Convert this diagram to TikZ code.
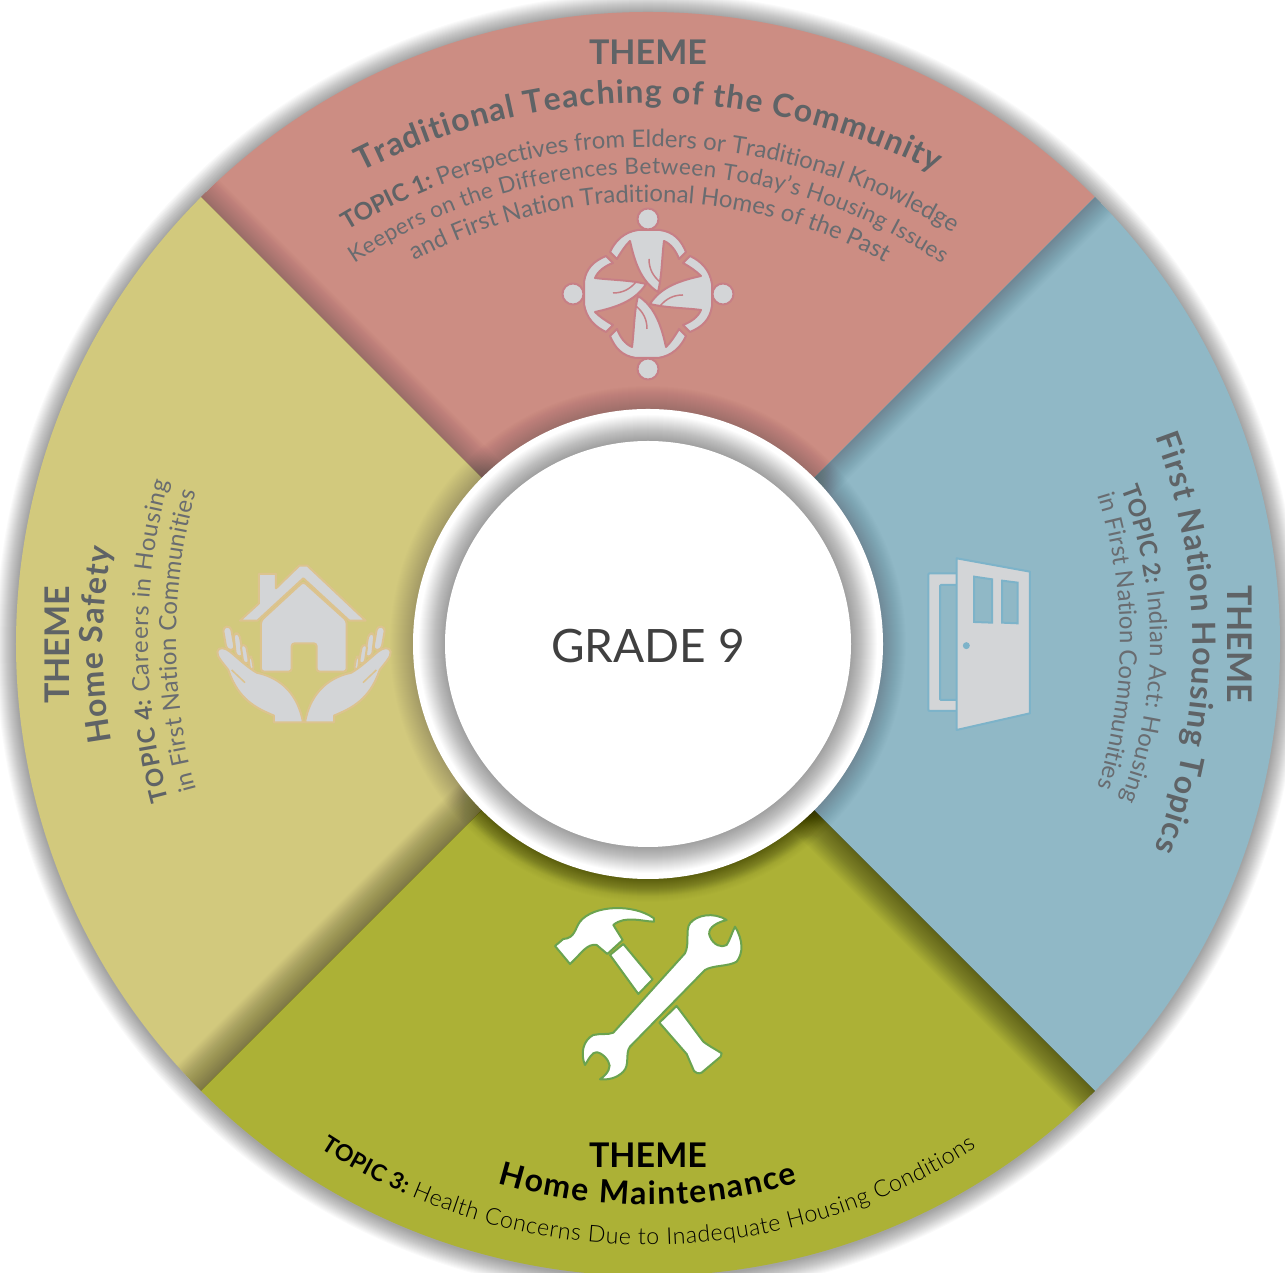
\documentclass[tikz,border=0pt]{standalone}
\usepackage{fontspec}
\setmainfont{Lato}
\newfontfamily\litefam{Lato Light}
\usetikzlibrary{decorations.text,calc}
\definecolor{cred}{HTML}{CC8D83}
\definecolor{cblue}{HTML}{90B8C6}
\definecolor{cgreen}{HTML}{ACB136}
\definecolor{cyellow}{HTML}{D2C97D}
\definecolor{ctxt}{HTML}{5F6366}
\definecolor{ctxtl}{HTML}{696C70}
\definecolor{iconf}{HTML}{D3D5D7}
\definecolor{cpeople}{HTML}{C77F86}
\definecolor{cdoor}{HTML}{7DB3C9}
\definecolor{chome}{HTML}{DCC38F}
\definecolor{ctools}{HTML}{6BA34F}
\tikzset{
  iconred/.style={fill=iconf,draw=#1,line width=2pt,line join=round},
  themebig/.style={font=\bfseries\fontsize{34}{34}\selectfont,text=#1},
  arctext/.style={decorate,decoration={text along path,text align=fit to path,text={#1}}},
}
\newcommand\fttl{\bfseries\fontsize{32}{32}\selectfont\color{ctxt}}
\newcommand\ftb{\bfseries\fontsize{24}{24}\selectfont\color{ctxt}}
\newcommand\ftl{\fontsize{24}{24}\selectfont\color{ctxtl}}
\newcommand\ftls{\fontsize{22.5}{22.5}\selectfont\color{ctxtl}}
\newcommand\fttlk{\bfseries\fontsize{32}{32}\selectfont\color{black}}
\newcommand\ftbk{\bfseries\fontsize{23}{23}\selectfont\color{black}}
\newcommand\ftlk{\litefam\fontsize{23.2}{23.2}\selectfont\color{black}}
% cx, cy (image), R, a1, a2, text
\newcommand\arctxt[6]{\path[arctext={#6}] ($(#1,1273-#2)+(#4:#3pt)$) arc[start angle=#4,end angle=#5,radius=#3pt];}
\newcommand\sector[2]{(648,629) -- ++(#1:632pt) arc[start angle=#1,end angle=#2,radius=632pt] -- cycle}
\newcommand\bandshadow[4]{% wedge a1 a2, opacity per step, max width
  \begin{scope}
    \clip \sector{#1}{#2};
    \foreach \w in {2,4,...,#4}{\draw[line width=\w pt,black,opacity=#3] (648,629) -- ++(\bnd:640pt);}
  \end{scope}}
\newcommand\person{%
  \filldraw[iconred=cpeople] (0,-75) circle[radius=10.5pt];
  \filldraw[iconred=cpeople] (-10,-64) .. controls (-24,-62) and (-33,-53) .. (-38,-42) -- (-31,-35)
    .. controls (-27,-42) and (-23,-48) .. (-18,-53)
    .. controls (-14,-35) and (-8,-13) .. (10,-2)
    .. controls (14,-18) and (14,-38) .. (16,-53)
    .. controls (23,-50) and (28,-43) .. (31,-35) -- (38,-42)
    .. controls (33,-54) and (26,-62) .. (12,-64) -- cycle;
  \draw[cpeople,line width=1.5pt] (1,-35) .. controls (1,-25) and (5,-18) .. (12,-12);
}
\newcommand\handshape{%
  \filldraw[iconred=chome,rounded corners=4pt] (68,232) -- (92,228) -- (105,300) -- (80,300) -- cycle;
  \filldraw[iconred=chome,rounded corners=4pt] (100,250) -- (118,250) -- (130,320) -- (108,320) -- cycle;
  \filldraw[iconred=chome,rounded corners=3pt] (122,285) -- (138,285) -- (148,340) -- (130,340) -- cycle;
  \filldraw[iconred=chome,rounded corners=3pt] (145,320) -- (155,320) -- (162,360) -- (150,360) -- cycle;
  \filldraw[iconred=chome] (309,517) -- (222,517) -- (222,497)
     .. controls (170,475) and (115,450) .. (85,360)
     .. controls (70,340) and (50,320) .. (52,305)
     .. controls (55,290) and (75,292) .. (90,305)
     .. controls (120,330) and (140,350) .. (170,368)
     .. controls (250,385) and (295,440) .. (309,517) -- cycle;
  \draw[chome,line width=1.5pt] (95,360) -- (135,398);
}
\begin{document}
\begin{tikzpicture}[x=1pt,y=1pt]
\path[use as bounding box,clip] (0,0) rectangle (1285,1273);
\fill[white] (0,0) rectangle (1285,1273);
% outer soft shadow
\foreach \r in {652,651,...,633}{\fill[black,opacity=.018] (648,628) circle[radius=\r pt];}
% wedges
\fill[cred] \sector{45}{135};
\fill[cyellow] \sector{135}{225};
\fill[cgreen] \sector{225}{315};
\fill[cblue] \sector{-45}{45};
% cast shadows along the boundaries
\def\bnd{135}\bandshadow{45}{135}{.009}{50}
\def\bnd{45}\bandshadow{-45}{45}{.006}{50}
\def\bnd{-45}\bandshadow{225}{315}{.016}{60}
\def\bnd{225}\bandshadow{135}{225}{.011}{70}
% halo of the central ring
\foreach \r in {258,257,...,236}{\fill[black,opacity=.008] (648,629) circle[radius=\r pt];}
\begin{scope}
  \clip \sector{225}{315};
  \foreach \r in {252,251,...,236}{\fill[black,opacity=.016] (648,629) circle[radius=\r pt];}
\end{scope}
% ring and centre
\fill[white] (648,629) circle[radius=235pt];
\foreach \r in {229,228,...,204}{\fill[black,opacity=.017] (648,629) circle[radius=\r pt];}
\fill[white] (648,629) circle[radius=203pt];
\node[font=\fontsize{46}{46}\selectfont,text=black!75] (grade) at (648,627) {GRADE 9};
% ---- top text
\node[themebig=ctxt,anchor=base] (themetop) at (648,1273-65) {THEME};
\arctxt{648}{734}{631}{117.05}{62.95}{|\fttl|Traditional Teaching of the Community||}
\arctxt{648}{728}{581}{121.2}{58.8}{|\ftb|TOPIC 1: |||\ftl|Perspectives from Elders or Traditional Knowledge||}
\arctxt{648}{699}{525}{124}{56}{|\ftls|Keepers on the Differences Between Today’s Housing Issues||}
\arctxt{648}{696}{494}{118.2}{61.8}{|\ftl|and First Nation Traditional Homes of the Past||}
% ---- right text
\node[themebig=ctxt,anchor=base,rotate=-90] (themeright) at (1227,1273-644) {THEME};
\arctxt{616}{643}{577}{20.92}{-20.92}{|\fttl|First Nation Housing Topics||}
\arctxt{716}{644}{434}{21.06}{-21.06}{|\ftb|TOPIC 2: |||\ftl|Indian Act: Housing||}
\arctxt{625}{641}{495}{17.15}{-17.15}{|\ftl|in First Nation Communities||}
% ---- left text
\node[themebig=ctxt,anchor=base,rotate=90] (themeleft) at (69,1273-645) {THEME};
\arctxt{661}{645}{558}{190}{170}{|\fttl|Home Safety||}
\arctxt{760}{641}{612}{195.06}{164.94}{|\ftb|TOPIC 4: |||\ftl|Careers in Housing||}
\arctxt{741}{641}{565}{195.29}{164.71}{|\ftl|in First Nation Communities||}
% ---- bottom text
\node[themebig=black,anchor=base] (themebottom) at (648,1273-1168) {THEME};
\arctxt{648}{683}{522}{253.3}{286.7}{|\fttlk|Home Maintenance||}
\arctxt{648}{642}{603}{237.05}{302.95}{|\ftbk|TOPIC 3: |||\ftlk|Health Concerns Due to Inadequate Housing Conditions||}
% ---- people icon
\foreach \a in {0,90,180,270}{
  \begin{scope}[shift={(648,979)},x=1pt,y=-1pt,rotate=\a]
    \person
  \end{scope}}
% ---- door icon
\begin{scope}[shift={(910,733)},x=.3333pt,y=-.3333pt]
  \filldraw[iconred=cdoor,even odd rule,rounded corners=1pt] (55,100) rectangle (142,513) (90,135) rectangle (142,480);
  \filldraw[iconred=cdoor] (140,55) -- (360,95) -- (360,520) -- (140,570) -- cycle;
  \draw[cdoor,line width=2pt,fill=cblue] (192,110) -- (246,118) -- (246,248) -- (192,246) -- cycle;
  \draw[cdoor,line width=2pt,fill=cblue] (276,122) -- (323,128) -- (323,250) -- (276,248) -- cycle;
  \fill[cdoor] (169,317) circle[radius=3.5pt];
\end{scope}
% ---- home icon
\begin{scope}[shift={(200,723)},x=.3333pt,y=-.3333pt]
  \filldraw[iconred=chome] (120,212) -- (177,160) -- (177,72) -- (228,72) -- (228,115) -- (298,47) -- (322,47) -- (497,212) -- (448,212) -- (310,85) -- (172,212) -- cycle;
  \filldraw[iconred=chome,rounded corners=3pt] (183,212) -- (310,95) -- (440,212) -- (440,365) -- (350,365) -- (350,280) -- (275,280) -- (275,365) -- (183,365) -- cycle;
  \handshape
\end{scope}
\begin{scope}[shift={(408,723)},x=-.3333pt,y=-.3333pt]
  \handshape
\end{scope}
% ---- tools icon
\begin{scope}[shift={(530,383)},x=.3333pt,y=-.3333pt]
  \tikzset{toolst/.style={fill=white,draw=ctools,line width=2pt,line join=round}}
  \filldraw[toolst] (75,168) -- (100,147) .. controls (135,145) and (135,115) .. (150,95)
    .. controls (190,45) and (310,40) .. (372,85) -- (372,95) .. controls (340,95) and (285,75) .. (250,105)
    -- (278,150) -- (232,192) -- (200,165) .. controls (170,160) and (155,190) .. (120,222) -- cycle;
  \filldraw[toolst] (240,195) -- (280,162) -- (368,268) -- (325,312) -- cycle;
  \filldraw[toolst] (388,398) -- (440,348) -- (520,455) .. controls (540,470) and (560,480) .. (575,490)
    -- (572,500) -- (515,548) .. controls (505,552) and (498,550) .. (492,543) -- (470,492) -- cycle;
  \filldraw[toolst] (250,428) -- (465,190) .. controls (480,160) and (465,120) .. (480,100)
    .. controls (500,75) and (550,65) .. (590,90)
    .. controls (550,100) and (530,120) .. (540,140)
    .. controls (550,165) and (575,175) .. (590,165)
    .. controls (600,150) and (605,130) .. (615,110)
    .. controls (640,150) and (640,190) .. (620,215)
    .. controls (595,230) and (550,225) .. (525,240)
    -- (300,470) .. controls (285,490) and (300,525) .. (280,545)
    .. controls (260,565) and (235,570) .. (210,568)
    .. controls (235,550) and (245,530) .. (235,515)
    .. controls (225,495) and (200,480) .. (190,490)
    .. controls (178,500) and (172,515) .. (165,525)
    .. controls (150,490) and (160,450) .. (190,435)
    .. controls (210,430) and (235,435) .. (250,428) -- cycle;
\end{scope}
\end{tikzpicture}
\end{document}
